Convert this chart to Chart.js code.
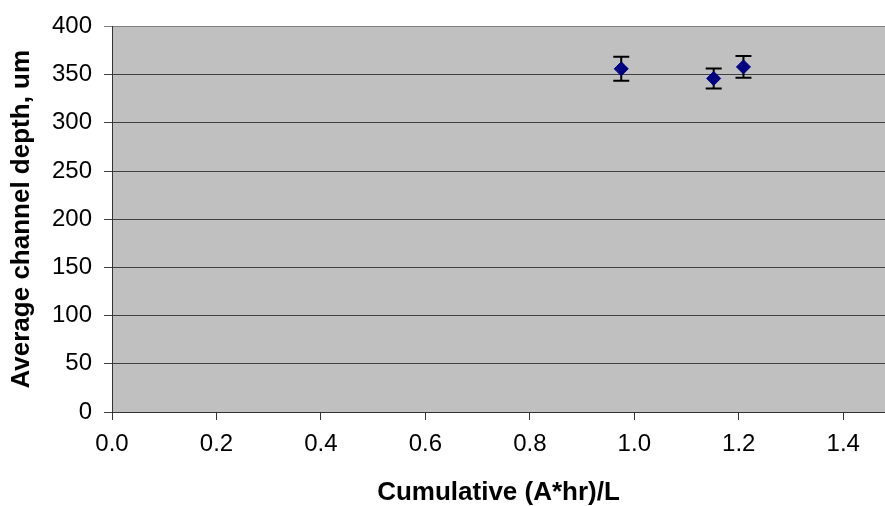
<!DOCTYPE html>
<html>
<head>
<meta charset="utf-8">
<script src="https://cdn.jsdelivr.net/npm/chart.js@4/dist/chart.umd.min.js"></script>
<style>
  body { margin: 0; background: #fff; }
  #wrap { width: 885px; height: 506px; }
</style>
</head>
<body>
<div id="wrap"><canvas id="depthChart" width="885" height="506"></canvas></div>
<script>
// data
const xValues = [0.975, 1.152, 1.209];
const depths = [356, 346, 358];
const errors = [12.4, 10.4, 11.2];
const xTicks = [0.0, 0.2, 0.4, 0.6, 0.8, 1.0, 1.2, 1.4];
const yTicks = [0, 50, 100, 150, 200, 250, 300, 350, 400];

const fontFamily = '"Liberation Sans", Arial, sans-serif';

// gray plot area
const plotBackground = {
    id: 'plotBackground',
    beforeDraw(chart) {
        const a = chart.chartArea;
        const ctx = chart.ctx;
        ctx.save();
        ctx.fillStyle = '#c0c0c0';
        ctx.fillRect(a.left, a.top, a.right - a.left, a.bottom - a.top);
        ctx.restore();
    }
};

// vertical error bars with caps
const errorBars = {
    id: 'errorBars',
    beforeDatasetsDraw(chart) {
        const xs = chart.scales.x;
        const ys = chart.scales.y;
        const ctx = chart.ctx;
        ctx.save();
        ctx.strokeStyle = '#000';
        ctx.lineWidth = 2;
        for (let i = 0; i < xValues.length; i++) {
            const px = xs.getPixelForValue(xValues[i]);
            const top = ys.getPixelForValue(depths[i] + errors[i]);
            const bot = ys.getPixelForValue(depths[i] - errors[i]);
            ctx.beginPath();
            ctx.moveTo(px, top);
            ctx.lineTo(px, bot);
            ctx.moveTo(px - 8, top);
            ctx.lineTo(px + 8, top);
            ctx.moveTo(px - 8, bot);
            ctx.lineTo(px + 8, bot);
            ctx.stroke();
        }
        ctx.restore();
    }
};

const ctx = document.getElementById('depthChart').getContext('2d');
new Chart(ctx, {
    type: 'scatter',
    data: {
        datasets: [{
            data: xValues.map((x, i) => ({ x: x, y: depths[i] })),
            pointStyle: 'rectRot',
            pointRadius: 7,
            pointHoverRadius: 7,
            backgroundColor: '#000080',
            borderColor: '#000080',
            borderWidth: 1
        }]
    },
    options: {
        responsive: false,
        animation: false,
        layout: { autoPadding: false, padding: { top: 25, right: 0, left: 0, bottom: 0 } },
        plugins: {
            legend: { display: false },
            tooltip: { enabled: false }
        },
        scales: {
            x: {
                type: 'linear',
                min: 0,
                max: 1.48,
                afterBuildTicks(scale) {
                    scale.ticks = xTicks.map(v => ({ value: v }));
                },
                afterFit(scale) {
                    scale.height = 94;
                    scale.paddingLeft = 0;
                    scale.paddingRight = 0;
                },
                ticks: {
                    color: '#000',
                    padding: 10,
                    maxRotation: 0,
                    font: { family: fontFamily, size: 24 },
                    callback: v => Number(v).toFixed(1)
                },
                grid: {
                    drawOnChartArea: false,
                    drawTicks: true,
                    tickLength: 8,
                    color: '#333'
                },
                border: { color: '#333', width: 1 },
                title: {
                    display: true,
                    text: 'Cumulative (A*hr)/L',
                    color: '#000',
                    padding: { top: 0, bottom: 0 },
                    font: { family: fontFamily, size: 26, weight: 'bold', lineHeight: 1 }
                }
            },
            y: {
                min: 0,
                max: 400,
                afterBuildTicks(scale) {
                    scale.ticks = yTicks.map(v => ({ value: v }));
                },
                afterFit(scale) { scale.width = 112; },
                ticks: {
                    color: '#000',
                    padding: 12,
                    font: { family: fontFamily, size: 24 }
                },
                grid: {
                    tickLength: 8,
                    color: ctx => ctx.tick && ctx.tick.value === 400 ? '#808080' : '#404040'
                },
                border: { color: '#333', width: 1 },
                title: {
                    display: true,
                    text: 'Average channel depth, um',
                    color: '#000',
                    padding: { top: 9, bottom: 0 },
                    font: { family: fontFamily, size: 26, weight: 'bold', lineHeight: 1 }
                }
            }
        }
    },
    plugins: [plotBackground, errorBars]
});
</script>
</body>
</html>
